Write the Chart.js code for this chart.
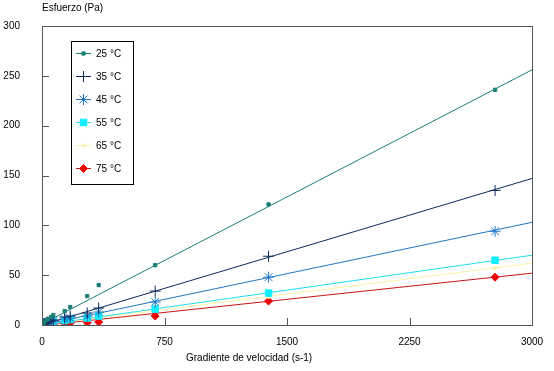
<!DOCTYPE html>
<html>
<head>
<meta charset="utf-8">
<script src="https://cdn.jsdelivr.net/npm/chart.js@4"></script>
<style>
  body { margin: 0; background: #fff; }
</style>
</head>
<body>
<canvas id="chart" width="554" height="371"></canvas>
<script>
// shear rate (s-1) and stress (Pa)
const gradient = [7, 14, 28, 35, 55, 69, 139, 173, 277, 347, 693, 1387, 2774];
const s25 = [1.5, 3, 5, 6, 8, 10, 14, 18, 29, 40, 60, 121, 236];
const s35 = [1, 1.5, 2.5, 3, 4, 5, 8, 9, 12, 17, 34, 69, 135];
const s45 = [0.8, 1.2, 2, 2.5, 3.5, 4, 6, 7, 9, 13, 23, 48, 94];
const s55 = [0.5, 1, 1.5, 2, 2.5, 3, 4.5, 5.5, 7, 9, 16, 32, 65];
const s65 = [0.4, 0.8, 1.2, 1.6, 2, 2.5, 4, 4.5, 6, 7.5, 14, 28, 57];
const s75 = [0.2, 0.3, 0.5, 0.6, 0.8, 1, 1.7, 2, 2.5, 3, 9, 24, 48];

// trend lines: value at x = 0 and at x = 3000
const trendX = [0, 3000];
const t25 = [1, 256];
const t35 = [0, 147];
const t45 = [0, 103];
const t55 = [0, 70];
const t65 = [0, 62];
const t75 = [-0.5, 52];

const labels = ["25 °C", "35 °C", "45 °C", "55 °C", "65 °C", "75 °C"];
const xTicks = [0, 750, 1500, 2250, 3000];
const yTicks = [0, 50, 100, 150, 200, 250, 300];

const series = [s25, s35, s45, s55, s65, s75];
const trends = [t25, t35, t45, t55, t65, t75];

const styles = [
    { line: "#1a7f78", fill: "#1a7f78", point: "rect", r: 2.3 },
    { line: "#102a5c", fill: "#102a5c", point: "cross", r: 5.5 },
    { line: "#2277c4", fill: "#2277c4", point: "star", r: 5.5 },
    { line: "#22dcee", fill: "#11eeff", point: "rect", r: 4.6 },
    { line: "#fbf3a6", fill: "#fbf3a6", point: "circle", r: 1.5 },
    { line: "#cc1515", fill: "#ee0000", point: "rectRot", r: 4 }
];

function zip(xs, ys) {
    return xs.map((x, i) => ({ x: x, y: ys[i] }));
}

const datasets = [];
series.forEach((s, i) => {
    const st = styles[i];
    datasets.push({
        type: "line",
        data: zip(trendX, trends[i]),
        borderColor: st.line,
        borderWidth: 1,
        pointRadius: 0,
        order: 2
    });
    datasets.push({
        type: "scatter",
        data: zip(gradient, s),
        showLine: false,
        pointStyle: st.point,
        pointRadius: st.r,
        pointBorderWidth: 1,
        pointBackgroundColor: st.fill,
        pointBorderColor: st.fill,
        order: 1
    });
});

const FONT = "Liberation Sans, Arial, sans-serif";

// frame, inward ticks, titles and legend box
const decor = {
    id: "decor",
    afterDraw(chart) {
        const ctx = chart.ctx;
        const a = chart.chartArea;
        const xs = chart.scales.x, ys = chart.scales.y;
        ctx.save();
        ctx.strokeStyle = "#555";
        ctx.lineWidth = 1;
        ctx.strokeRect(a.left + 0.5, a.top + 0.5, a.right - a.left, a.bottom - a.top);
        ctx.beginPath();
        yTicks.forEach(v => {
            const y = Math.round(ys.getPixelForValue(v)) + 0.5;
            ctx.moveTo(a.left, y);
            ctx.lineTo(a.left + 7, y);
        });
        xTicks.forEach(v => {
            const x = Math.round(xs.getPixelForValue(v)) + 0.5;
            ctx.moveTo(x, a.bottom);
            ctx.lineTo(x, a.bottom - 7);
        });
        ctx.stroke();

        ctx.fillStyle = "#000";
        ctx.font = "10px " + FONT;
        ctx.textBaseline = "middle";
        ctx.textAlign = "left";
        ctx.fillText("Esfuerzo (Pa)", 42, 8);
        ctx.fillText("Gradiente de velocidad (s-1)", 186, 358);

        // legend
        ctx.fillStyle = "#fff";
        ctx.fillRect(71, 41, 62, 143);
        ctx.strokeStyle = "#000";
        ctx.strokeRect(71.5, 41.5, 62, 143);
        labels.forEach((lab, i) => {
            const st = styles[i];
            const y = 53 + i * 23;
            ctx.strokeStyle = st.line;
            ctx.beginPath();
            ctx.moveTo(76, y + 0.5);
            ctx.lineTo(91, y + 0.5);
            ctx.stroke();
            ctx.fillStyle = st.fill;
            ctx.strokeStyle = st.fill;
            ctx.lineWidth = 1;
            Chart.helpers.drawPoint(ctx, { pointStyle: st.point, radius: st.r, borderWidth: 1, rotation: 0 }, 83.5, y + 0.5);
            ctx.fillStyle = "#000";
            ctx.fillText(lab, 96, y + 1);
        });
        ctx.restore();
    }
};

new Chart(document.getElementById("chart"), {
    type: "scatter",
    data: { datasets: datasets },
    plugins: [decor],
    options: {
        responsive: false,
        animation: false,
        events: [],
        layout: { padding: { top: 26, right: 22, left: 0, bottom: 0 } },
        plugins: { legend: { display: false }, tooltip: { enabled: false } },
        scales: {
            x: {
                type: "linear",
                min: 0,
                max: 3000,
                afterBuildTicks: s => { s.ticks = xTicks.map(v => ({ value: v })); },
                afterFit: s => { s.height = 46; },
                grid: { display: false },
                border: { display: false },
                ticks: {
                    color: "#000",
                    font: { family: FONT, size: 10 },
                    padding: 3,
                    maxRotation: 0,
                    callback: v => String(v)
                }
            },
            y: {
                type: "linear",
                min: 0,
                max: 300,
                afterBuildTicks: s => { s.ticks = yTicks.map(v => ({ value: v })); },
                afterFit: s => { s.width = 42; },
                grid: { display: false },
                border: { display: false },
                ticks: { color: "#000", font: { family: FONT, size: 10 }, padding: 14, callback: v => String(v) }
            }
        }
    }
});
</script>
</body>
</html>
